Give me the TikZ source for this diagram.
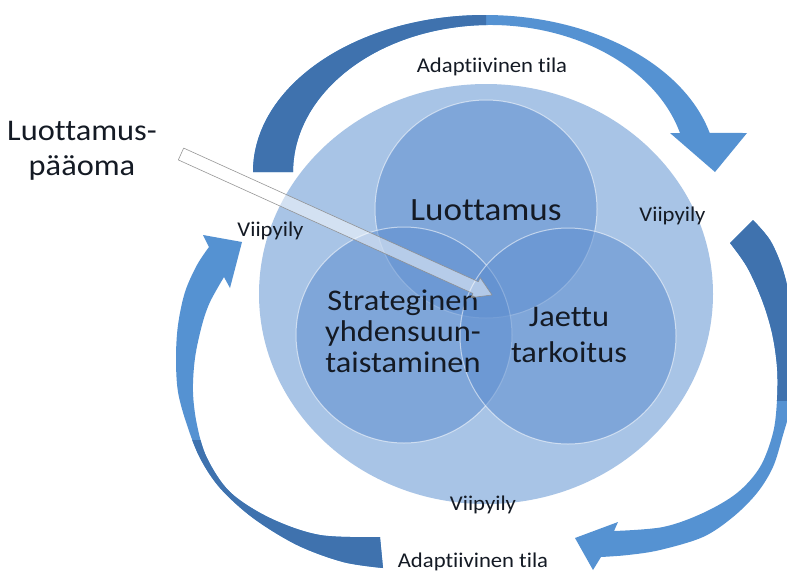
\documentclass[tikz,border=0pt]{standalone}
\usepackage{fontspec}
\setmainfont{Carlito}[Ligatures=CommonOff, Contextuals=AlternateOff]
\usetikzlibrary{calc}
\definecolor{ringblue}{HTML}{A8C4E6}
\definecolor{discblue}{HTML}{5F8FD0}
\definecolor{arrowdark}{HTML}{3F72AE}
\definecolor{arrowlight}{HTML}{5592D2}
\definecolor{inktext}{HTML}{141A24}

% outlines of the three curved block arrows (pixel-like units, y downwards)
\newcommand\arcTopShape{(253,172) arc[start angle=-180, end angle=-14.4, x radius=232, y radius=157]
  -- (747,133) -- (715,172) -- (670,133) -- (680,133)
  arc[start angle=-15.39, end angle=-180, x radius=197, y radius=147] -- cycle}
\newcommand\arcRightShape{plot[smooth, tension=0.55] coordinates {(753,220) (770,240) (782,267) (789,295) (793,330) (794,370) (791,405) (783,435) (773,467) (757,493) (733,517) (703,537) (660,550) (628,555) (601,557)}
  -- (593,570) -- (575,538) -- (618,522)
  -- plot[smooth, tension=0.55] coordinates {(614,531) (663,527) (703,513) (737,493) (760,467) (773,433) (777,400) (777,367) (772,333) (762,300) (747,267) (730,243)} -- cycle}
\newcommand\arcLeftShape{plot[smooth, tension=0.55] coordinates {(383,568) (343,562) (297,545) (253,518) (220,488) (200,458) (187,425) (178,392) (176,358) (178,325) (185,292) (197,265) (209,247)}
  -- (203,235) -- (242,242) -- (230,288)
  -- plot[smooth, tension=0.55] coordinates {(224,277) (210,302) (202,325) (195,358) (193,392) (197,425) (207,458) (230,492) (270,518) (320,535) (380,537)} -- cycle}

\begin{document}
\begin{tikzpicture}[x=1pt,y=-1pt,
  disc/.style={fill=discblue, fill opacity=0.55, draw=white, draw opacity=0.55, line width=1pt},
  biglabel/.style={font=\fontsize{30}{31}\selectfont, text=inktext, align=center, inner sep=0pt, xscale=1.08},
  smalllabel/.style={font=\fontsize{21}{24}\selectfont, text=inktext, inner sep=0pt, xscale=1.08, anchor=base},
  glass/.style={fill=white, fill opacity=0.5, draw=black!45, draw opacity=0.9, line width=0.6pt, line join=round}]
\useasboundingbox (0,0) rectangle (787,571);
\fill[white] (0,0) rectangle (787,571);

% outer ring
\fill[ringblue] (486,294) ellipse[x radius=227, y radius=210];

% three overlapping discs
\path[disc] (486,209) ellipse[x radius=111, y radius=109];
\path[disc] (404,335) ellipse[x radius=108, y radius=108];
\path[disc] (568,336) ellipse[x radius=108, y radius=108];

% curved arrows: light body, darker tail half
\fill[arrowlight] \arcTopShape;
\begin{scope}
  \clip (200,0) rectangle (486,200);
  \fill[arrowdark] \arcTopShape;
\end{scope}
\fill[arrowlight] \arcRightShape;
\begin{scope}
  \clip (690,180) rectangle (800,400);
  \fill[arrowdark] \arcRightShape;
\end{scope}
\fill[arrowlight] \arcLeftShape;
\begin{scope}
  \clip (150,440) rectangle (420,580);
  \fill[arrowdark] \arcLeftShape;
\end{scope}

% labels
\node[biglabel, font=\fontsize{30}{35.5}\selectfont] (capital) at (82,151) {Luottamus-\\pääoma};
\node[biglabel, font=\fontsize{32.5}{34}\selectfont, anchor=base] (trust) at (486,220.7) {Luottamus};
\node[biglabel, font=\fontsize{30}{30.85}\selectfont] (alignment) at (403,331) {Strateginen\\yhdensuun-\\taistaminen};
\node[biglabel, font=\fontsize{30}{36.6}\selectfont] (purpose) at (569,335) {Jaettu\\tarkoitus};
\node[smalllabel] (adtop) at (492,72) {Adaptiivinen tila};
\node[smalllabel] (adbottom) at (473,567) {Adaptiivinen tila};
\node[smalllabel] (lingerleft) at (270.5,236) {Viipyily};
\node[smalllabel] (lingerright) at (672.5,221) {Viipyily};
\node[smalllabel] (lingerbottom) at (483,510) {Viipyily};

% glassy pointer from the capital label into the overlap
\coordinate (ptail) at (181,154);
\coordinate (ptip) at (492,295);
\coordinate (pbase) at ($(ptip)!18pt!(ptail)$);
\path[glass] ($(ptail)!6.5pt!90:(ptip)$) -- ($(pbase)!6.5pt!90:(ptip)$) -- ($(pbase)!11pt!90:(ptip)$)
  -- (ptip) -- ($(pbase)!11pt!-90:(ptip)$) -- ($(pbase)!6.5pt!-90:(ptip)$)
  -- ($(ptail)!6.5pt!-90:(ptip)$) -- cycle;
\end{tikzpicture}
\end{document}
